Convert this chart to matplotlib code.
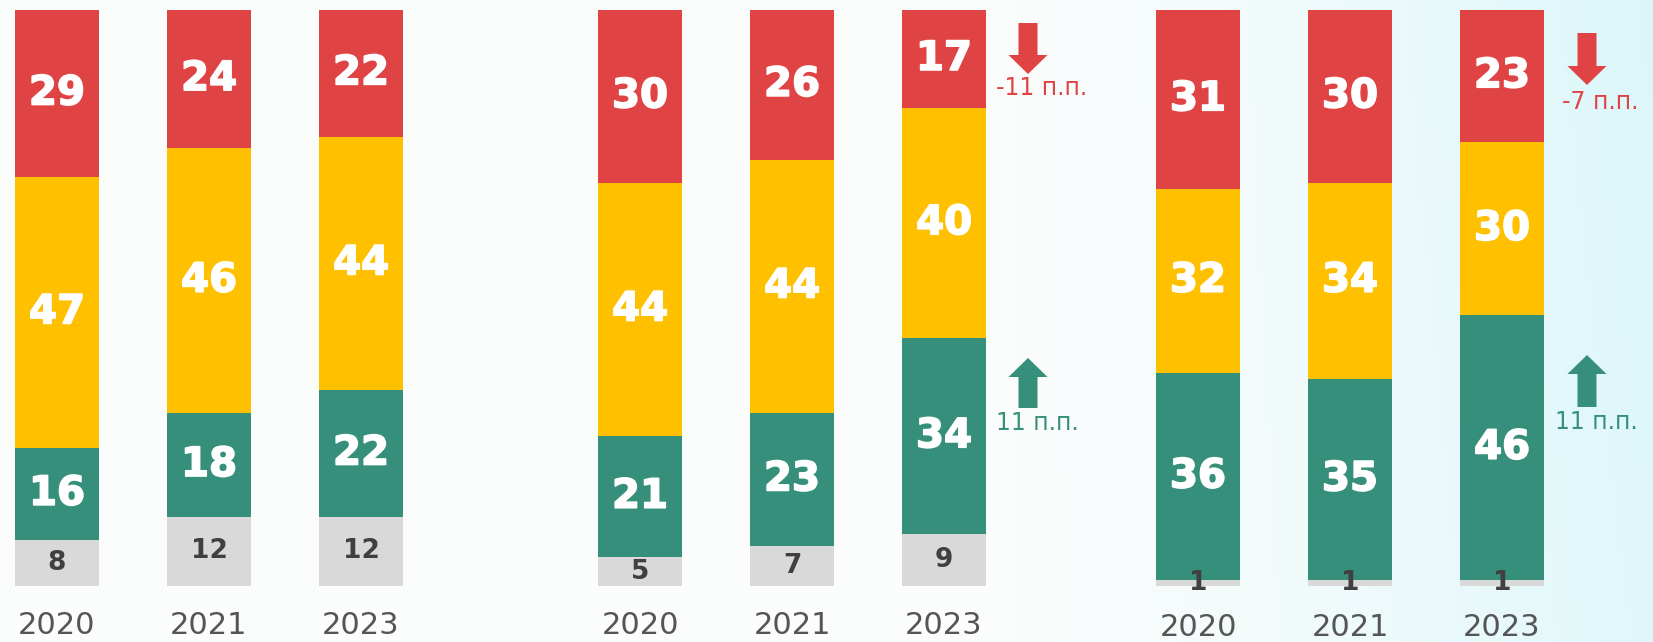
import numpy as np
import matplotlib
matplotlib.use("Agg")
import matplotlib.pyplot as plt
import matplotlib.patheffects as pe
from matplotlib.patches import FancyArrow

# ---------------- data ----------------
years = ["2020", "2021", "2023"]
gray_vals   = [[8, 12, 12], [5, 7, 9], [1, 1, 1]]
green_vals  = [[16, 18, 22], [21, 23, 34], [36, 35, 46]]
yellow_vals = [[47, 46, 44], [44, 44, 40], [32, 34, 30]]
red_vals    = [[29, 24, 22], [30, 26, 17], [31, 30, 23]]
change_red   = ["", "-11 п.п.", "-7 п.п."]
change_green = ["", "11 п.п.", "11 п.п."]

# ---------------- style ----------------
C_RED, C_YEL, C_GRN, C_GRY = "#E04343", "#FFC000", "#368F7A", "#D9D9D9"
W, H = 1653, 642
group_x0 = [57, 640, 1198]
group_dx = [152, 152, 152]
bar_w = 84

fig = plt.figure(figsize=(W / 100, H / 100), dpi=100)

# background gradient
bg = fig.add_axes([0, 0, 1, 1], zorder=0)
xx = np.linspace(0, 1, 400)
yy = np.linspace(0, 1, 100)
X, Y = np.meshgrid(xx, yy)
t = np.clip((X * W - 1000) / 653, 0, 1) ** 1.3 * (0.85 + 0.15 * Y)
white = np.array([0.985, 0.99, 0.99])
cyan = np.array([0.86, 0.967, 0.98])
img = white[None, None, :] * (1 - t[..., None]) + cyan[None, None, :] * t[..., None]
bg.imshow(img, extent=[0, W, 0, H], origin="lower", aspect="auto")
bg.set_xlim(0, W)
bg.set_ylim(0, H)
bg.axis("off")

# main axes (x in pixels, y in percent)
ax = fig.add_axes([0, 56 / H, 1, 576 / H], zorder=1)
ax.set_xlim(0, W)
ax.set_ylim(0, 100)
ax.axis("off")
ax.patch.set_alpha(0)

for g in range(3):
    xs = [group_x0[g] + i * group_dx[g] for i in range(3)]
    b = np.zeros(3)
    for vals, col, tc, fs, sw in [(gray_vals[g], C_GRY, "#404040", 19, 0.0),
                                  (green_vals[g], C_GRN, "white", 29, 1.2),
                                  (yellow_vals[g], C_YEL, "white", 29, 1.2),
                                  (red_vals[g], C_RED, "white", 29, 1.2)]:
        v = np.array(vals, dtype=float)
        ax.bar(xs, v, bottom=b, width=bar_w, color=col, edgecolor="none")
        for x, bb, vv in zip(xs, b, v):
            effects = [pe.withStroke(linewidth=sw, foreground=tc)] if sw > 0 else []
            ax.text(x, bb + vv / 2, f"{int(vv)}", ha="center", va="center",
                    color=tc, fontsize=fs, fontweight="bold",
                    family="DejaVu Sans", zorder=5, path_effects=effects)
        b = b + v
    for x, yl in zip(xs, years):
        ax.text(x, -6.9 if g < 2 else -7.2, yl, ha="center", va="center",
                color="#555555", fontsize=22, family="DejaVu Sans")

# change arrows / labels (overlay in pixel coordinates, y from top)
ov = fig.add_axes([0, 0, 1, 1], zorder=2)
ov.set_xlim(0, W)
ov.set_ylim(H, 0)
ov.axis("off")
ov.patch.set_alpha(0)

arrow_specs = [
    None,
    (1028, 23, 74, (1042, 88), 408, 358, (1037, 423)),
    (1587, 33, 85, (1600, 102), 407, 355, (1596, 422)),
]
for g in range(3):
    spec = arrow_specs[g]
    if spec is None:
        continue
    xc, yt, ytip, rl, yb, ygtip, gl = spec
    ov.add_patch(FancyArrow(xc, yt, 0, ytip - yt, width=19, head_width=39,
                            head_length=19, length_includes_head=True,
                            color=C_RED, lw=0))
    ov.text(rl[0], rl[1], change_red[g], ha="center", va="center",
            color=C_RED, fontsize=17, family="DejaVu Sans")
    ov.add_patch(FancyArrow(xc, yb, 0, ygtip - yb, width=19, head_width=39,
                            head_length=19, length_includes_head=True,
                            color=C_GRN, lw=0))
    ov.text(gl[0], gl[1], change_green[g], ha="center", va="center",
            color=C_GRN, fontsize=17, family="DejaVu Sans")

fig.savefig("out.png", dpi=100)
